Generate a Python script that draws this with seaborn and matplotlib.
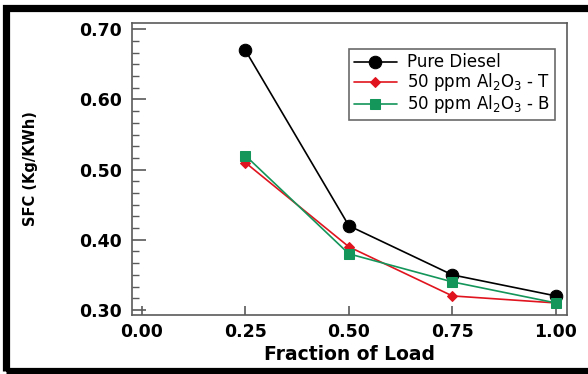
import matplotlib
matplotlib.use("Agg")
import matplotlib.pyplot as plt
from matplotlib.patches import Rectangle
from matplotlib.ticker import AutoMinorLocator, FixedLocator
import seaborn as sns
import pandas as pd

# Specific fuel consumption against engine load fraction
load_fraction = [0.25, 0.50, 0.75, 1.00]
sfc_pure_diesel = [0.67, 0.42, 0.35, 0.32]
sfc_al2o3_t = [0.51, 0.39, 0.32, 0.31]
sfc_al2o3_b = [0.52, 0.38, 0.34, 0.31]

series_labels = ["Pure Diesel",
                 r"50 ppm Al$_2$O$_3$ - T",
                 r"50 ppm Al$_2$O$_3$ - B"]
x_ticks = [0.00, 0.25, 0.50, 0.75, 1.00]
y_ticks = [0.30, 0.40, 0.50, 0.60, 0.70]

sns.set_style("white")
plt.rcParams["font.family"] = ["DejaVu Sans"]
plt.rcParams["mathtext.fontset"] = "dejavusans"
plt.rcParams["text.color"] = "black"
plt.rcParams["axes.labelcolor"] = "black"
plt.rcParams["xtick.color"] = "black"
plt.rcParams["ytick.color"] = "black"

fig = plt.figure(figsize=(5.88, 3.74), dpi=100)
ax = fig.add_axes([132 / 588, 1 - 315 / 374, (567 - 132) / 588, (315 - 23) / 374])

frames = []
for label, values in zip(series_labels, [sfc_pure_diesel, sfc_al2o3_t, sfc_al2o3_b]):
    frames.append(pd.DataFrame({"load": load_fraction, "sfc": values, "fuel": label}))
df = pd.concat(frames, ignore_index=True)

styles = {
    series_labels[0]: dict(color="black", marker="o", markersize=9),
    series_labels[1]: dict(color="#e0141e", marker="D", markersize=5.5),
    series_labels[2]: dict(color="#14955a", marker="s", markersize=7.5),
}
for label in series_labels:
    sub = df[df["fuel"] == label]
    st = styles[label]
    sns.lineplot(data=sub, x="load", y="sfc", ax=ax, sort=False,
                 color=st["color"], marker=st["marker"], markersize=st["markersize"],
                 markeredgecolor=st["color"], markerfacecolor=st["color"],
                 linewidth=1.2, label=label)

ax.set_xlim(-0.024, 1.027)
ax.set_ylim(0.2928, 0.709)
ax.xaxis.set_major_locator(FixedLocator(x_ticks))
ax.yaxis.set_major_locator(FixedLocator(y_ticks))
ax.yaxis.set_minor_locator(AutoMinorLocator(6))
ax.set_xticklabels([f"{v:.2f}" for v in x_ticks])
ax.set_yticklabels([f"{v:.2f}" for v in y_ticks])

spine_color = "#5a5a5a"
for side, spine in ax.spines.items():
    spine.set_color(spine_color)
    spine.set_linewidth(1.2)
    spine.set_visible(True)

ax.tick_params(axis="y", which="major", direction="in", length=10, width=1.2,
               color=spine_color, pad=7, labelsize=12.5, left=True,
               labelcolor="black")
ax.tick_params(axis="y", which="minor", direction="in", length=5, width=1.0,
               color=spine_color, left=True)
ax.tick_params(axis="x", which="major", direction="in", length=6.5, width=1.2,
               color=spine_color, pad=6, labelsize=12.5, bottom=True,
               labelcolor="black")
for lbl in ax.get_xticklabels() + ax.get_yticklabels():
    lbl.set_fontweight("bold")

ax.set_xlabel("Fraction of Load", fontsize=13.5, fontweight="bold", labelpad=3,
              color="black")
ax.set_ylabel("SFC (Kg/KWh)", fontsize=10.5, fontweight="bold", color="black")
ax.yaxis.set_label_coords((38 - 132) / 435, 0.5)

leg = ax.legend(loc="upper right", bbox_to_anchor=(0.972, 0.912), fontsize=12,
                frameon=True, fancybox=False, shadow=False, borderpad=0.28,
                labelspacing=0.0, handlelength=2.6, handletextpad=0.6,
                borderaxespad=0.0)
leg.get_frame().set_edgecolor("#444444")
leg.get_frame().set_linewidth(1.2)
for t in leg.get_texts():
    t.set_color("black")

# Heavy black border around the panel
fig.patches.append(Rectangle((6 / 588, 3.5 / 374), 1.1, 1 - 11 / 374,
                             transform=fig.transFigure, fill=False,
                             edgecolor="black", linewidth=5.2, zorder=10))

fig.savefig("out.png", dpi=100)
